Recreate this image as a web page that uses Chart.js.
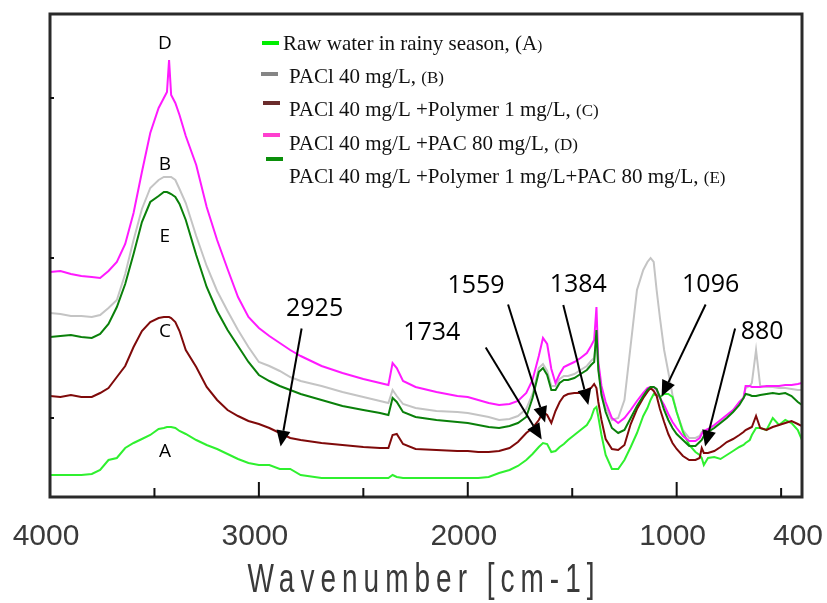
<!DOCTYPE html>
<html lang="en">
<head>
<meta charset="UTF-8">
<title>FTIR spectra</title>
<script src="https://cdn.jsdelivr.net/npm/chart.js@4.4.0/dist/chart.umd.min.js"></script>
<style>
  body { margin: 0; background: #fff; }
  #wrap { width: 827px; height: 603px; }
</style>
</head>
<body>
<div id="wrap"><canvas id="chart"></canvas></div>
<script>
// wavenumber grid (cm-1), shared by every spectrum
const wavenumbers = [
  4000, 3950, 3900, 3850, 3800, 3760, 3720, 3680, 3640, 3600,
  3560, 3520, 3480, 3455, 3440, 3430, 3420, 3400, 3380, 3350,
  3300, 3250, 3200, 3150, 3100, 3050, 3000, 2950, 2900, 2850,
  2800, 2700, 2600, 2500, 2420, 2380, 2360, 2340, 2310, 2250,
  2150, 2050, 2000, 1950, 1900, 1850, 1800, 1760, 1720, 1690,
  1660, 1640, 1620, 1600, 1580, 1560, 1540, 1520, 1490, 1460,
  1430, 1410, 1395, 1384, 1375, 1360, 1340, 1310, 1280, 1250,
  1220, 1190, 1160, 1140, 1125, 1110, 1096, 1080, 1060, 1040,
  1020, 1000, 970, 940, 910, 890, 880, 870, 850, 820,
  790, 760, 730, 700, 680, 670, 650, 640, 620, 600,
  570, 540, 510, 480, 450, 420, 400
];

// (A) raw water, rainy season
const rawWater = [
  0.044, 0.044, 0.044, 0.044, 0.046, 0.054, 0.074, 0.078, 0.098, 0.108,
  0.116, 0.124, 0.136, 0.138, 0.140, 0.140, 0.140, 0.138, 0.132, 0.126,
  0.114, 0.104, 0.096, 0.086, 0.076, 0.068, 0.064, 0.064, 0.056, 0.056,
  0.044, 0.038, 0.038, 0.038, 0.038, 0.038, 0.044, 0.040, 0.038, 0.038,
  0.038, 0.038, 0.038, 0.038, 0.040, 0.048, 0.054, 0.062, 0.074, 0.086,
  0.100, 0.108, 0.106, 0.090, 0.092, 0.100, 0.106, 0.114, 0.124, 0.134,
  0.144, 0.158, 0.176, 0.180, 0.160, 0.124, 0.084, 0.056, 0.056, 0.074,
  0.100, 0.128, 0.162, 0.178, 0.194, 0.206, 0.204, 0.200, 0.206, 0.206,
  0.200, 0.170, 0.130, 0.104, 0.090, 0.084, 0.078, 0.064, 0.078, 0.080,
  0.076, 0.084, 0.092, 0.100, 0.104, 0.108, 0.114, 0.124, 0.138, 0.138,
  0.134, 0.158, 0.144, 0.154, 0.148, 0.134, 0.114
];

// (B) PACl 40 mg/L
const pacl = [
  0.368, 0.366, 0.362, 0.362, 0.360, 0.364, 0.378, 0.394, 0.446, 0.514,
  0.576, 0.618, 0.634, 0.640, 0.640, 0.640, 0.640, 0.634, 0.616, 0.588,
  0.522, 0.462, 0.412, 0.372, 0.334, 0.300, 0.270, 0.262, 0.252, 0.240,
  0.232, 0.222, 0.210, 0.200, 0.192, 0.188, 0.214, 0.202, 0.186, 0.178,
  0.172, 0.170, 0.168, 0.164, 0.160, 0.154, 0.156, 0.162, 0.176, 0.206,
  0.258, 0.266, 0.252, 0.222, 0.222, 0.236, 0.242, 0.242, 0.246, 0.254,
  0.262, 0.272, 0.278, 0.314, 0.258, 0.208, 0.178, 0.154, 0.158, 0.194,
  0.304, 0.414, 0.454, 0.470, 0.478, 0.470, 0.414, 0.358, 0.294, 0.250,
  0.204, 0.170, 0.134, 0.118, 0.118, 0.122, 0.130, 0.130, 0.134, 0.142,
  0.152, 0.162, 0.172, 0.188, 0.198, 0.218, 0.222, 0.228, 0.294, 0.222,
  0.220, 0.220, 0.218, 0.218, 0.216, 0.214, 0.214
];

// (C) PACl 40 mg/L + polymer 1 mg/L
const paclPolymer = [
  0.202, 0.200, 0.204, 0.200, 0.200, 0.208, 0.218, 0.240, 0.262, 0.300,
  0.332, 0.350, 0.358, 0.360, 0.360, 0.360, 0.358, 0.350, 0.332, 0.294,
  0.260, 0.220, 0.194, 0.174, 0.162, 0.152, 0.146, 0.138, 0.128, 0.118,
  0.114, 0.108, 0.104, 0.100, 0.098, 0.098, 0.124, 0.126, 0.106, 0.096,
  0.094, 0.092, 0.092, 0.090, 0.090, 0.092, 0.098, 0.110, 0.128, 0.138,
  0.154, 0.170, 0.164, 0.148, 0.172, 0.190, 0.202, 0.206, 0.208, 0.208,
  0.214, 0.218, 0.226, 0.218, 0.190, 0.154, 0.116, 0.096, 0.094, 0.104,
  0.146, 0.176, 0.198, 0.210, 0.218, 0.212, 0.202, 0.176, 0.150, 0.126,
  0.108, 0.096, 0.082, 0.074, 0.074, 0.078, 0.098, 0.088, 0.088, 0.092,
  0.100, 0.110, 0.116, 0.124, 0.130, 0.134, 0.138, 0.140, 0.162, 0.138,
  0.134, 0.140, 0.144, 0.148, 0.152, 0.146, 0.142
];

// (D) PACl 40 mg/L + PAC 80 mg/L
const paclPac = [
  0.450, 0.452, 0.446, 0.442, 0.440, 0.438, 0.452, 0.470, 0.506, 0.568,
  0.650, 0.728, 0.778, 0.798, 0.810, 0.874, 0.804, 0.788, 0.764, 0.722,
  0.664, 0.580, 0.514, 0.456, 0.400, 0.360, 0.338, 0.322, 0.308, 0.294,
  0.282, 0.262, 0.248, 0.236, 0.228, 0.224, 0.268, 0.258, 0.232, 0.220,
  0.210, 0.202, 0.200, 0.194, 0.188, 0.184, 0.186, 0.192, 0.208, 0.234,
  0.282, 0.318, 0.306, 0.256, 0.228, 0.246, 0.260, 0.264, 0.270, 0.278,
  0.288, 0.302, 0.314, 0.380, 0.270, 0.222, 0.190, 0.158, 0.148, 0.158,
  0.174, 0.192, 0.208, 0.218, 0.220, 0.220, 0.214, 0.198, 0.184, 0.166,
  0.150, 0.138, 0.122, 0.112, 0.112, 0.118, 0.126, 0.132, 0.136, 0.144,
  0.154, 0.164, 0.174, 0.190, 0.198, 0.222, 0.222, 0.220, 0.220, 0.220,
  0.222, 0.222, 0.222, 0.224, 0.224, 0.226, 0.228
];

// (E) PACl 40 mg/L + polymer 1 mg/L + PAC 80 mg/L
const paclPolymerPac = [
  0.320, 0.322, 0.324, 0.320, 0.318, 0.326, 0.346, 0.380, 0.426, 0.486,
  0.550, 0.590, 0.602, 0.610, 0.610, 0.608, 0.606, 0.600, 0.586, 0.554,
  0.484, 0.420, 0.372, 0.334, 0.302, 0.270, 0.244, 0.232, 0.222, 0.214,
  0.206, 0.194, 0.182, 0.174, 0.168, 0.164, 0.198, 0.190, 0.170, 0.160,
  0.154, 0.150, 0.148, 0.144, 0.140, 0.138, 0.142, 0.148, 0.160, 0.198,
  0.250, 0.258, 0.244, 0.214, 0.214, 0.228, 0.234, 0.234, 0.238, 0.246,
  0.254, 0.264, 0.270, 0.334, 0.254, 0.204, 0.170, 0.138, 0.128, 0.134,
  0.158, 0.182, 0.202, 0.214, 0.220, 0.220, 0.216, 0.200, 0.174, 0.154,
  0.138, 0.126, 0.114, 0.102, 0.102, 0.110, 0.114, 0.122, 0.130, 0.138,
  0.148, 0.158, 0.170, 0.184, 0.198, 0.206, 0.204, 0.202, 0.202, 0.204,
  0.206, 0.208, 0.206, 0.208, 0.202, 0.190, 0.184
];

const tickLabels = [4000, 3000, 2000, 1000, 400];
const tickMarks = [3500, 3000, 2500, 2000, 1500, 1000, 500];
const yTickMarks = [0.158, 0.478, 0.798];

// letters next to the O-H band
const curveLetters = ['D', 'B', 'E', 'C', 'A'];
const letterWavenumber = 3450;
const letterAbsorbance = [0.906, 0.664, 0.520, 0.330, 0.090];

// assigned bands, arrow tip in data units
const peakLabels = ['2925', '1734', '1559', '1384', '1096', '880'];
const peakTipWavenumber = [2896, 1646, 1630, 1423, 1072, 864];
const peakTipAbsorbance = [0.101, 0.115, 0.149, 0.184, 0.201, 0.101];

function series(values) {
  return wavenumbers.map((w, i) => ({ x: w, y: values[i] }));
}

// arrow tail and label offsets from the tip, px
const arrowLayout = [
  { tail: [21, -118], text: [34, -138] },
  { tail: [-56, -92], text: [-110, -107] },
  { tail: [-37, -118], text: [-69, -137] },
  { tail: [-25, -100], text: [-10, -120] },
  { tail: [44, -92], text: [49, -112] },
  { tail: [30, -118], text: [57, -115] }
];

// legend rows: marker colour, marker line, text segments
const legendRows = [
  { color: '#00ee00', mx: 262, my: 43, tx: 283, ty: 50, parts: [['Raw water in rainy season, (A', 21], [')', 15]] },
  { color: '#858585', mx: 261, my: 74, tx: 289, ty: 83, parts: [['PACl 40 mg/L, ', 21], ['(B)', 17]] },
  { color: '#6b2c2c', mx: 263, my: 103, tx: 289, ty: 116, parts: [['PACl 40 mg/L +Polymer 1 mg/L, ', 21], ['(C)', 17]] },
  { color: '#ff3fcf', mx: 263, my: 135, tx: 289, ty: 150, parts: [['PACl 40 mg/L +PAC 80 mg/L, ', 21], ['(D)', 17]] },
  { color: '#0a8f0a', mx: 266, my: 159, tx: 289, ty: 183, parts: [['PACl 40 mg/L +Polymer 1 mg/L+PAC 80 mg/L, ', 21], ['(E)', 17]] }
];

const decorations = {
  id: 'decorations',
  afterDraw(chart) {
    const { ctx, chartArea: a, scales: { x, y } } = chart;
    ctx.save();

    // frame
    ctx.strokeStyle = '#2a2a2a';
    ctx.lineWidth = 3;
    ctx.strokeRect(a.left, a.top, a.right - a.left, a.bottom - a.top);

    // inward ticks
    ctx.strokeStyle = '#111';
    ctx.lineWidth = 2;
    tickMarks.forEach(w => {
      const px = x.getPixelForValue(w);
      const len = w % 1000 === 0 ? 15 : 9;
      ctx.beginPath();
      ctx.moveTo(px, a.bottom);
      ctx.lineTo(px, a.bottom - len);
      ctx.stroke();
    });
    yTickMarks.forEach(v => {
      const py = y.getPixelForValue(v);
      ctx.beginPath();
      ctx.moveTo(a.left, py);
      ctx.lineTo(a.left + 4, py);
      ctx.stroke();
    });

    // tick labels and axis title
    ctx.filter = 'blur(0.4px)';
    ctx.fillStyle = '#3a3a3a';
    ctx.font = '30px "Liberation Sans", Arial, sans-serif';
    ctx.textAlign = 'center';
    ctx.textBaseline = 'middle';
    tickLabels.forEach(w => {
      ctx.fillText(String(w), x.getPixelForValue(w) - 4, a.bottom + 40);
    });
    ctx.save();
    ctx.translate((a.left + a.right) / 2 - 2, a.bottom + 95);
    ctx.scale(1, 1.45);
    ctx.font = '28px "Liberation Sans", Arial, sans-serif';
    ctx.letterSpacing = '6px';
    ctx.textBaseline = 'alphabetic';
    ctx.fillText('Wavenumber [cm-1]', 0, 0);
    ctx.restore();
    ctx.filter = 'none';

    // curve letters
    ctx.fillStyle = '#000';
    ctx.font = '19px "Open Sans", sans-serif';
    curveLetters.forEach((t, i) => {
      ctx.fillText(t, x.getPixelForValue(letterWavenumber), y.getPixelForValue(letterAbsorbance[i]));
    });

    // band arrows
    ctx.font = '25px "Open Sans", sans-serif';
    ctx.strokeStyle = '#000';
    ctx.lineWidth = 2;
    peakLabels.forEach((t, i) => {
      const tx = x.getPixelForValue(peakTipWavenumber[i]);
      const ty = y.getPixelForValue(peakTipAbsorbance[i]);
      const lay = arrowLayout[i];
      const sx = tx + lay.tail[0], sy = ty + lay.tail[1];
      const ang = Math.atan2(ty - sy, tx - sx);
      const head = 16, half = 7;
      const bx = tx - head * Math.cos(ang), by = ty - head * Math.sin(ang);
      ctx.beginPath();
      ctx.moveTo(sx, sy);
      ctx.lineTo(bx, by);
      ctx.stroke();
      ctx.beginPath();
      ctx.moveTo(tx, ty);
      ctx.lineTo(bx + half * Math.sin(ang), by - half * Math.cos(ang));
      ctx.lineTo(bx - half * Math.sin(ang), by + half * Math.cos(ang));
      ctx.closePath();
      ctx.fill();
      ctx.fillText(t, tx + lay.text[0], ty + lay.text[1]);
    });

    // legend
    ctx.textAlign = 'left';
    ctx.textBaseline = 'alphabetic';
    ctx.fillStyle = '#111';
    legendRows.forEach(row => {
      ctx.fillStyle = row.color;
      ctx.fillRect(row.mx, row.my - 2, 17, 4);
      ctx.fillStyle = '#111';
      let cx = row.tx;
      row.parts.forEach(([s, size]) => {
        ctx.font = size + 'px "Liberation Serif", "Times New Roman", serif';
        ctx.fillText(s, cx, row.ty);
        cx += ctx.measureText(s).width;
      });
    });

    ctx.restore();
  }
};

const lineStyle = { borderWidth: 2, pointRadius: 0, tension: 0, fill: false };

new Chart(document.getElementById('chart'), {
  type: 'line',
  data: {
    datasets: [
      { label: 'Raw water in rainy season, (A)', data: series(rawWater), borderColor: '#2ff02f', order: 3, ...lineStyle },
      { label: 'PACl 40 mg/L, (B)', data: series(pacl), borderColor: '#c4c4c4', order: 4, ...lineStyle },
      { label: 'PACl 40 mg/L +Polymer 1 mg/L, (C)', data: series(paclPolymer), borderColor: '#7f0a0a', order: 1, ...lineStyle },
      { label: 'PACl 40 mg/L +PAC 80 mg/L, (D)', data: series(paclPac), borderColor: '#ff1aff', order: 2, ...lineStyle },
      { label: 'PACl 40 mg/L +Polymer 1 mg/L+PAC 80 mg/L, (E)', data: series(paclPolymerPac), borderColor: '#0a800a', order: 0, ...lineStyle }
    ]
  },
  options: {
    responsive: true,
    maintainAspectRatio: false,
    animation: false,
    layout: { padding: { left: 50, top: 14, right: 25, bottom: 106 } },
    scales: {
      x: { type: 'linear', reverse: true, min: 400, max: 4000, display: false },
      y: { min: 0, max: 0.966, display: false }
    },
    plugins: {
      legend: { display: false },
      tooltip: { enabled: false }
    }
  },
  plugins: [decorations]
});
</script>
</body>
</html>
